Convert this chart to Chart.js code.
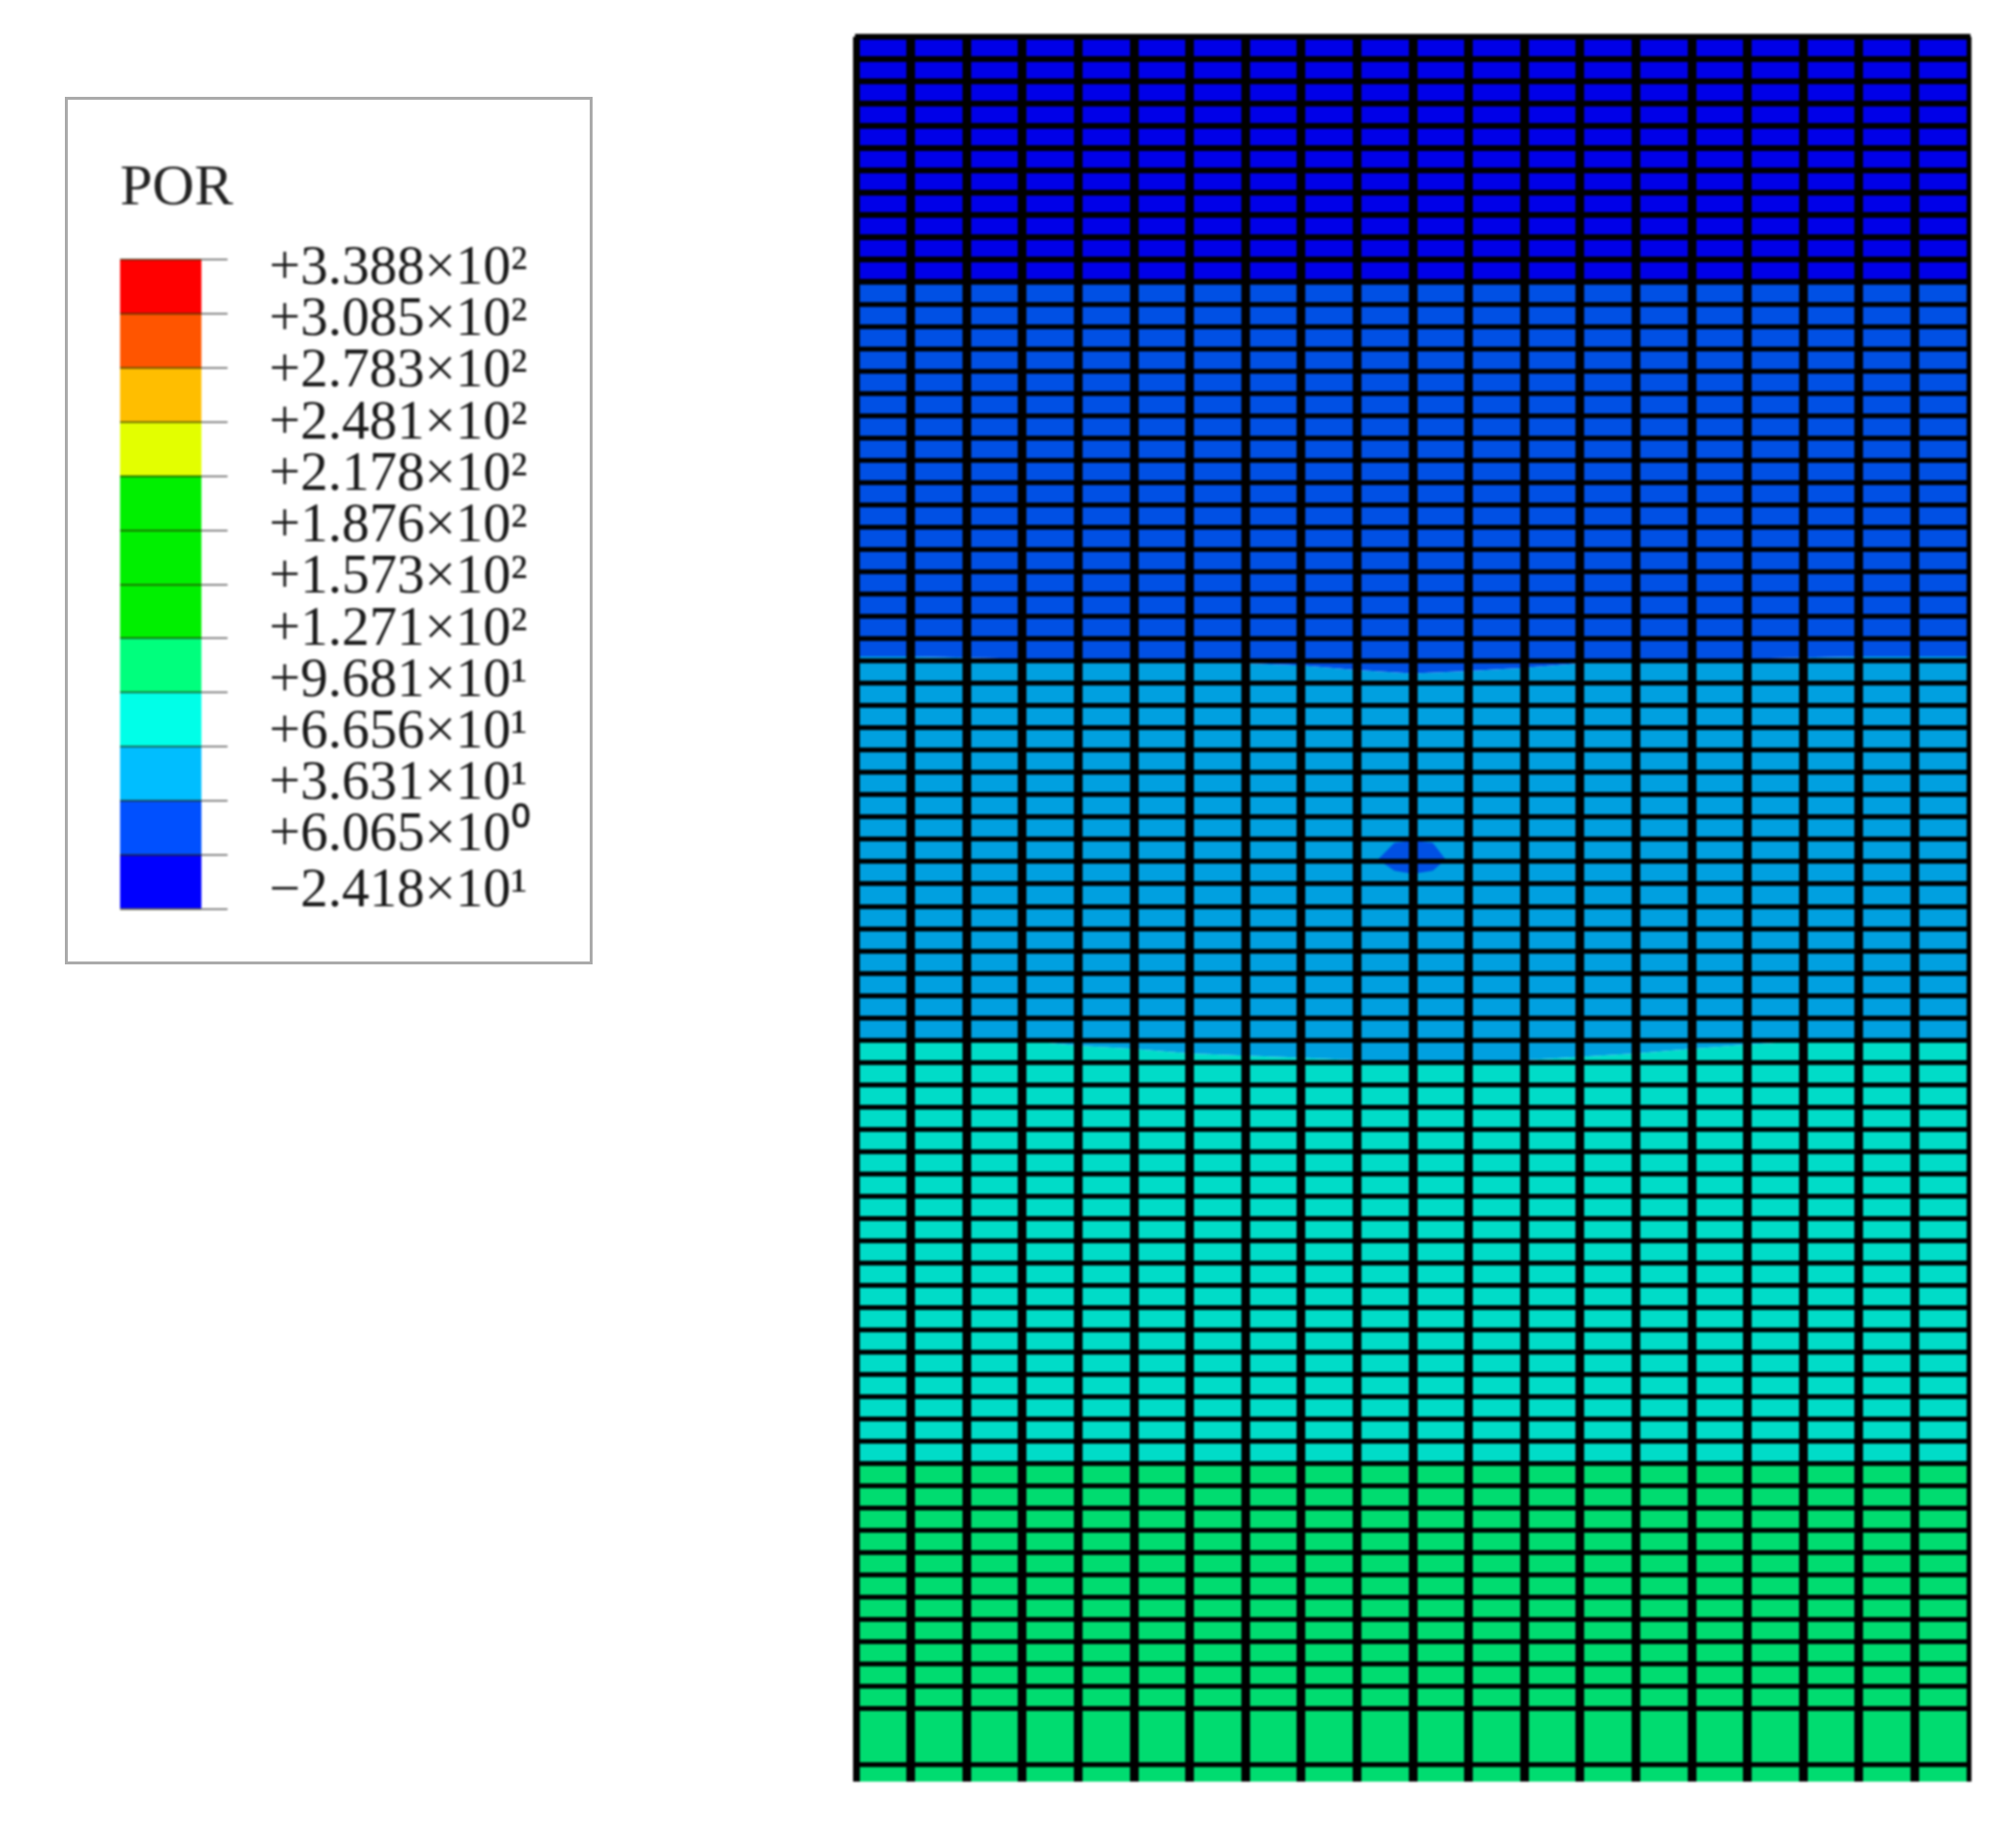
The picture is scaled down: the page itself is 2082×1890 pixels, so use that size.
<!DOCTYPE html>
<html>
<head>
<meta charset="utf-8">
<title>POR</title>
<script src="https://cdn.jsdelivr.net/npm/chart.js@4/dist/chart.umd.min.js"></script>
<style>
  html, body { margin: 0; padding: 0; background: #fff; }
  canvas { position: absolute; filter: blur(1px); }
  #legend-box { position: absolute; left: 67px; top: 100px; width: 539px; height: 890px; border: 3px solid #aaa; filter: blur(0.6px); }
  #legend-chart { left: 68px; top: 101px; }
  #mesh-chart { left: 881px; top: 35px; }
</style>
</head>
<body>
<div id="legend-box"></div>
<canvas id="legend-chart" width="540" height="890"></canvas>
<canvas id="mesh-chart" width="1155" height="1805"></canvas>
<script>
// contour legend, listed from the bottom band up
var legendLabels = ['\u22122.418\u00d710\u00b9', '+6.065\u00d710\u2070', '+3.631\u00d710\u00b9', '+6.656\u00d710\u00b9',
  '+9.681\u00d710\u00b9', '+1.271\u00d710\u00b2', '+1.573\u00d710\u00b2', '+1.876\u00d710\u00b2', '+2.178\u00d710\u00b2',
  '+2.481\u00d710\u00b2', '+2.783\u00d710\u00b2', '+3.085\u00d710\u00b2', '+3.388\u00d710\u00b2'];
var legendColors = ['#0000ff', '#0050ff', '#00beff', '#00ffe8', '#00ff7d', '#00f000', '#00f000', '#00f000',
  '#e3ff00', '#ffbe00', '#ff5500', '#ff0000'];
var legendTicks = [0, 1, 2, 3, 4, 5, 6, 7, 8, 9, 10, 11, 12];
// the printed labels do not sit exactly on the bar ticks
var labelSlots = [0, 1.1, 2.1, 3.1, 4.1, 5.1, 6.12, 7.13, 8.13, 9.13, 10.14, 11.14, 12.14];

// mesh lines, in element widths across and element heights down
var columnLines = [0, 1, 2, 3, 4, 5, 6, 7, 8, 9, 10, 11, 12, 13, 14, 15, 16, 17, 18, 19, 20];
var rowLines = [0, 1, 2, 3, 4, 5, 6, 7, 8, 9, 10, 11, 12, 13, 14, 15, 16, 17, 18, 19, 20, 21, 22, 23, 24, 25,
  26, 27, 28, 29, 30, 31, 32, 33, 34, 35, 36, 37, 38, 39, 40, 41, 42, 43, 44, 45, 46, 47, 48, 49, 50,
  51, 52, 53, 54, 55, 56, 57, 58, 59, 60, 61, 62, 63, 64, 65, 66, 67, 68, 69, 70, 71, 72, 73, 74, 75, 77.48];
var meshBottom = 78.26;

// depth of each contour boundary at every column line
var topEdge = [0, 0, 0, 0, 0, 0, 0, 0, 0, 0, 0, 0, 0, 0, 0, 0, 0, 0, 0, 0, 0];
var boundary1 = [11, 11, 11, 11, 11, 11, 11, 11, 11, 11, 11, 11, 11, 11, 11, 11, 11, 11, 11, 11, 11];
var boundary2 = [27.8, 27.8, 27.85, 27.9, 27.9, 27.95, 28, 28.1, 28.2, 28.4, 28.55, 28.45, 28.3, 28.1, 28, 27.95, 27.9, 27.85, 27.8, 27.8, 27.8];
var boundary3 = [45, 45, 45, 45, 45.25, 45.4, 45.6, 45.7, 45.8, 45.9, 45.95, 45.95, 45.9, 45.75, 45.6, 45.4, 45.2, 45.05, 45, 45, 45];
var boundary4 = [64, 64, 64, 64, 64, 64, 64, 64, 64, 64, 64, 64, 64, 64, 64, 64, 64, 64, 64, 64, 64];
var bottomEdge = [78.26, 78.26, 78.26, 78.26, 78.26, 78.26, 78.26, 78.26, 78.26, 78.26, 78.26, 78.26, 78.26, 78.26, 78.26, 78.26, 78.26, 78.26, 78.26, 78.26, 78.26];
var bandColors = ['#0000e8', '#0050e4', '#00a0e0', '#00dcc8', '#00dc70'];

// small low-pressure patch around the middle of the mesh
var patchX = [9.375, 9.67, 10, 10.36, 10.59];
var patchTop = [36.9, 36.15, 36.05, 36.15, 36.9];
var patchBottom = [36.9, 37.4, 37.55, 37.4, 36.9];

function toPoints(xs, ys) {
  return xs.map(function (x, i) { return { x: x, y: ys[i] }; });
}

function area(xs, ys, color) {
  return {
    data: toPoints(xs, ys),
    backgroundColor: color,
    fill: color ? '-1' : false,
    pointRadius: 0,
    borderWidth: 0
  };
}

function fixedTicks(values) {
  return function (axis) {
    axis.ticks = values.map(function (v) { return { value: v }; });
  };
}

// filler paints the last dataset first, so the patch goes in front
new Chart(document.getElementById('mesh-chart'), {
  type: 'line',
  data: {
    datasets: [
      area(patchX, patchTop, null),
      area(patchX, patchBottom, bandColors[1]),
      area(columnLines, topEdge, null),
      area(columnLines, boundary1, bandColors[0]),
      area(columnLines, boundary2, bandColors[1]),
      area(columnLines, boundary3, bandColors[2]),
      area(columnLines, boundary4, bandColors[3]),
      area(columnLines, bottomEdge, bandColors[4])
    ]
  },
  options: {
    responsive: false,
    animation: false,
    devicePixelRatio: 1,
    layout: { padding: { left: 2, right: 1, top: 3, bottom: 0 } },
    plugins: { legend: { display: false }, tooltip: { enabled: false } },
    scales: {
      x: {
        type: 'linear',
        min: 0,
        max: 20,
        afterBuildTicks: fixedTicks(columnLines),
        ticks: { display: false },
        border: { display: false },
        grid: { z: 1, color: '#000', lineWidth: 9, drawTicks: false }
      },
      y: {
        type: 'linear',
        reverse: true,
        min: 0,
        max: meshBottom,
        afterBuildTicks: fixedTicks(rowLines),
        ticks: { display: false },
        border: { display: false },
        grid: {
          z: 1,
          color: '#000',
          drawTicks: false,
          lineWidth: function (ctx) {
            if (!ctx.tick) return 4;
            return ctx.tick.value <= 11 ? 6 : 5;
          }
        }
      }
    }
  }
});

new Chart(document.getElementById('legend-chart'), {
  type: 'bar',
  data: {
    labels: [''],
    datasets: legendColors.map(function (color) {
      return { data: [1], backgroundColor: color, categoryPercentage: 1, barPercentage: 1, stack: 'bar' };
    })
  },
  options: {
    responsive: false,
    animation: false,
    devicePixelRatio: 1,
    layout: { padding: { left: 56, top: 0, right: 0, bottom: 52 } },
    plugins: {
      legend: { display: false },
      tooltip: { enabled: false },
      title: {
        display: true,
        text: 'POR',
        align: 'start',
        color: '#222',
        font: { family: '"Liberation Serif"', size: 60, weight: 'normal' },
        padding: { top: 58, bottom: 37 }
      }
    },
    scales: {
      x: {
        stacked: true,
        ticks: { display: false },
        border: { display: false },
        grid: { display: false, drawTicks: false }
      },
      y: {
        position: 'right',
        stacked: true,
        min: 0,
        max: 12,
        afterBuildTicks: fixedTicks(legendTicks),
        afterFit: function (axis) { axis.width = 27; },
        ticks: { display: false },
        border: { display: false },
        grid: { z: 1, color: 'rgba(40,40,0,0.6)', tickColor: '#888', tickLength: 27, lineWidth: 2 }
      },
      labels: {
        position: 'right',
        min: -0.331,
        max: 12.33,
        afterBuildTicks: fixedTicks(labelSlots),
        afterFit: function (axis) {
          axis.width = 373;
          axis.paddingTop = 0;
          axis.paddingBottom = 0;
        },
        ticks: {
          color: '#1a1a1a',
          font: { family: '"Liberation Serif"', size: 57 },
          crossAlign: 'near',
          padding: 43,
          autoSkip: false,
          callback: function (value, index) { return legendLabels[index]; }
        },
        border: { display: false },
        grid: { display: false, drawTicks: false }
      }
    }
  }
});
</script>
</body>
</html>
